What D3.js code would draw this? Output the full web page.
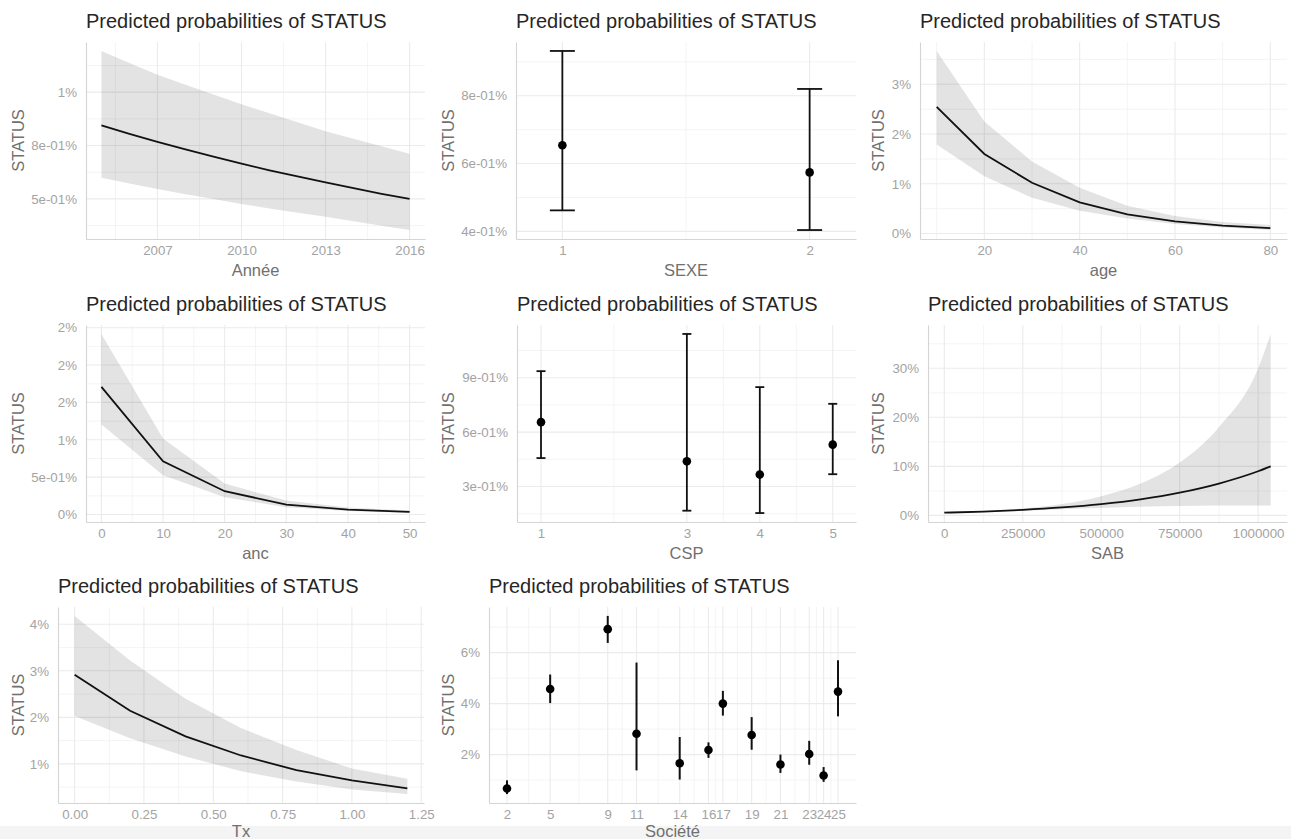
<!DOCTYPE html>
<html>
<head>
<meta charset="utf-8">
<script src="https://cdn.jsdelivr.net/npm/d3@7"></script>
<style>
  body { margin: 0; background: #fff; }
  svg { display: block; font-family: "Liberation Sans", Arial, sans-serif; }
</style>
</head>
<body>
<svg id="chart" width="1291" height="839"></svg>
<script>
// Predicted probabilities (in %), one set per term

// Année
const yearX = [2005, 2006, 2007, 2008, 2009, 2010, 2011, 2012, 2013, 2014, 2015, 2016]
const yearPred = [0.844, 0.805, 0.767, 0.732, 0.698, 0.665, 0.634, 0.605, 0.577, 0.550, 0.524, 0.500]
const yearLow = [0.599, 0.572, 0.546, 0.522, 0.499, 0.476, 0.455, 0.435, 0.416, 0.395, 0.374, 0.354]
const yearHigh = [1.193, 1.137, 1.081, 1.035, 0.989, 0.943, 0.901, 0.859, 0.817, 0.782, 0.747, 0.712]
const yearXTicks = [2007, 2010, 2013, 2016]
const yearYTicks = [0.5, 0.75, 1]
const yearYLabels = ["5e-01%", "8e-01%", "1%"]

// SEXE
const sexeX = [1, 2]
const sexePred = [0.654, 0.574]
const sexeLow = [0.462, 0.404]
const sexeHigh = [0.932, 0.820]
const sexeXTicks = [1, 2]
const sexeYTicks = [0.4, 0.6, 0.8]
const sexeYLabels = ["4e-01%", "6e-01%", "8e-01%"]

// age
const ageX = [10, 20, 30, 40, 50, 60, 70, 80]
const agePred = [2.546, 1.60, 1.02, 0.626, 0.386, 0.246, 0.160, 0.110]
const ageLow = [1.79, 1.15, 0.72, 0.46, 0.30, 0.19, 0.12, 0.07]
const ageHigh = [3.67, 2.25, 1.45, 0.92, 0.56, 0.35, 0.23, 0.17]
const ageXTicks = [20, 40, 60, 80]
const ageYTicks = [0, 1, 2, 3]
const ageYLabels = ["0%", "1%", "2%", "3%"]

// anc
const ancX = [0, 10, 20, 30, 40, 50]
const ancPred = [1.707, 0.713, 0.312, 0.134, 0.067, 0.036]
const ancLow = [1.203, 0.525, 0.231, 0.098, 0.047, 0.020]
const ancHigh = [2.416, 1.016, 0.414, 0.187, 0.094, 0.053]
const ancXTicks = [0, 10, 20, 30, 40, 50]
const ancYTicks = [0, 0.5, 1, 1.5, 2, 2.5]
const ancYLabels = ["0%", "5e-01%", "1%", "2%", "2%", "2%"]

// CSP
const cspX = [1, 3, 4, 5]
const cspPred = [0.655, 0.439, 0.366, 0.531]
const cspLow = [0.457, 0.167, 0.154, 0.368]
const cspHigh = [0.936, 1.141, 0.848, 0.756]
const cspXTicks = [1, 3, 4, 5]
const cspYTicks = [0.3, 0.6, 0.9]
const cspYLabels = ["3e-01%", "6e-01%", "9e-01%"]

// SAB
const sabX = [0, 125000, 250000, 375000, 500000, 625000, 750000, 875000, 1000000, 1040000]
const sabPred = [0.55, 0.79, 1.13, 1.62, 2.31, 3.28, 4.64, 6.50, 9.0, 10.0]
const sabLow = [0.48, 0.70, 0.95, 1.25, 1.50, 1.75, 1.90, 2.0, 2.0, 2.0]
const sabHigh = [0.62, 0.90, 1.40, 2.30, 3.90, 6.50, 10.8, 18.0, 30.0, 37.0]
const sabXTicks = [0, 250000, 500000, 750000, 1000000]
const sabYTicks = [0, 10, 20, 30]
const sabYLabels = ["0%", "10%", "20%", "30%"]

// Tx
const txX = [0, 0.2, 0.4, 0.6, 0.8, 1.0, 1.2]
const txPred = [2.915, 2.14, 1.59, 1.18, 0.865, 0.645, 0.474]
const txLow = [2.03, 1.55, 1.16, 0.84, 0.62, 0.45, 0.35]
const txHigh = [4.18, 3.22, 2.40, 1.77, 1.30, 0.90, 0.68]
const txXTicks = [0, 0.25, 0.5, 0.75, 1, 1.25]
const txXLabels = ["0.00", "0.25", "0.50", "0.75", "1.00", "1.25"]
const txYTicks = [1, 2, 3, 4]
const txYLabels = ["1%", "2%", "3%", "4%"]

// Société
const socX = [2, 5, 9, 11, 14, 16, 17, 19, 21, 23, 24, 25]
const socPred = [0.67, 4.57, 6.92, 2.82, 1.66, 2.18, 4.00, 2.77, 1.61, 2.02, 1.18, 4.47]
const socLow = [0.45, 4.02, 6.38, 1.38, 1.02, 1.87, 3.53, 2.19, 1.28, 1.60, 0.93, 3.50]
const socHigh = [0.99, 5.14, 7.44, 5.61, 2.69, 2.48, 4.50, 3.47, 2.00, 2.54, 1.51, 5.70]
const socXTicks = [2, 5, 9, 11, 14, 16, 17, 19, 21, 23, 24, 25]
const socXLabels = ["2", "5", "9", "11", "14", "16", "17", "19", "21", "23", "24", "25"]
const socYTicks = [2, 4, 6]
const socYLabels = ["2%", "4%", "6%"]

const title = "Predicted probabilities of STATUS"
const yTitle = "STATUS"

// ggplot-style 5% expansion of the data range
function expand(lo, hi) {
  const r = hi - lo
  return [lo - 0.05 * r, hi + 0.05 * r]
}

// minor gridlines half-way between major breaks, like ggplot
function minorBreaks(b, domain) {
  const bd = b[1] - b[0]
  const ext = b.slice()
  if (domain[0] < b[0]) ext.unshift(b[0] - bd)
  if (domain[1] > b[b.length - 1]) ext.push(b[b.length - 1] + bd)
  const m = []
  for (let i = 0; i < ext.length - 1; i++) m.push((ext[i] + ext[i + 1]) / 2)
  return m.filter(v => v > domain[0] && v < domain[1])
}

// bottom row's x titles sit right at the lower edge of the window
const rows = [
  { top: 42, bottom: 239, xTitleGap: 37 },
  { top: 325, bottom: 522, xTitleGap: 37 },
  { top: 607, bottom: 803, xTitleGap: 34 }
]

const panels = [
  { col: 0, row: 0, left: 86, right: 425, kind: "ribbon", xs: yearX, pred: yearPred, lo: yearLow, hi: yearHigh,
    xTicks: yearXTicks, yTicks: yearYTicks, yLabels: yearYLabels, xTitle: "Année",
    xDomain: expand(2005, 2016) },
  { col: 1, row: 0, left: 516, right: 856, kind: "errorbar", cap: 12.5, xs: sexeX, pred: sexePred, lo: sexeLow, hi: sexeHigh,
    xTicks: sexeXTicks, yTicks: sexeYTicks, yLabels: sexeYLabels, xTitle: "SEXE",
    xDomain: [0.8125, 2.1875] },
  { col: 2, row: 0, left: 920, right: 1287, kind: "ribbon", xs: ageX, pred: agePred, lo: ageLow, hi: ageHigh,
    xTicks: ageXTicks, yTicks: ageYTicks, yLabels: ageYLabels, xTitle: "age",
    xDomain: expand(10, 80) },
  { col: 0, row: 1, left: 86, right: 425, kind: "ribbon", xs: ancX, pred: ancPred, lo: ancLow, hi: ancHigh,
    xTicks: ancXTicks, yTicks: ancYTicks, yLabels: ancYLabels, xTitle: "anc",
    xDomain: expand(0, 50) },
  { col: 1, row: 1, left: 517, right: 856, kind: "errorbar", cap: 4.5, xs: cspX, pred: cspPred, lo: cspLow, hi: cspHigh,
    xTicks: cspXTicks, yTicks: cspYTicks, yLabels: cspYLabels, xTitle: "CSP",
    xDomain: [0.671, 5.319] },
  { col: 2, row: 1, left: 928, right: 1287, kind: "ribbon", curve: d3.curveMonotoneX, xs: sabX, pred: sabPred, lo: sabLow, hi: sabHigh,
    xTicks: sabXTicks, yTicks: sabYTicks, yLabels: sabYLabels, xTitle: "SAB",
    xDomain: expand(0, 1040000) },
  { col: 0, row: 2, left: 58, right: 424, kind: "ribbon", xs: txX, pred: txPred, lo: txLow, hi: txHigh,
    xTicks: txXTicks, xLabels: txXLabels, yTicks: txYTicks, yLabels: txYLabels, xTitle: "Tx",
    xDomain: expand(0, 1.2) },
  { col: 1, row: 2, left: 489, right: 856, kind: "pointrange", xs: socX, pred: socPred, lo: socLow, hi: socHigh,
    xTicks: socXTicks, xLabels: socXLabels, yTicks: socYTicks, yLabels: socYLabels, xTitle: "Société",
    xDomain: [0.75, 26.25] }
]

const svg = d3.select("#chart")
svg.append("rect").attr("width", 1291).attr("height", 839).attr("fill", "#fff")

// light strip at the very bottom of the screenshot
svg.append("rect").attr("x", 0).attr("y", 826).attr("width", 1291).attr("height", 13).attr("fill", "#f4f4f4")

panels.forEach(p => drawPanel(p))

function drawPanel(p) {
  const box = rows[p.row]
  const colX = p.col * 430
  const yDomain = expand(d3.min(p.lo), d3.max(p.hi))
  const x = d3.scaleLinear().domain(p.xDomain).range([p.left, p.right])
  const y = d3.scaleLinear().domain(yDomain).range([box.bottom, box.top])
  const g = svg.append("g")

  // gridlines
  const grid = g.append("g")
  grid.selectAll(".xminor").data(minorBreaks(p.xTicks, p.xDomain)).join("line")
    .attr("x1", d => x(d)).attr("x2", d => x(d))
    .attr("y1", box.top).attr("y2", box.bottom)
    .attr("stroke", "#f1f1f1").attr("stroke-width", 0.8)
  grid.selectAll(".yminor").data(minorBreaks(p.yTicks, yDomain)).join("line")
    .attr("y1", d => y(d)).attr("y2", d => y(d))
    .attr("x1", p.left).attr("x2", p.right)
    .attr("stroke", "#f1f1f1").attr("stroke-width", 0.8)
  grid.selectAll(".xmajor").data(p.xTicks).join("line")
    .attr("x1", d => x(d)).attr("x2", d => x(d))
    .attr("y1", box.top).attr("y2", box.bottom)
    .attr("stroke", "#ebebeb").attr("stroke-width", 1.1)
  grid.selectAll(".ymajor").data(p.yTicks).join("line")
    .attr("y1", d => y(d)).attr("y2", d => y(d))
    .attr("x1", p.left).attr("x2", p.right)
    .attr("stroke", "#ebebeb").attr("stroke-width", 1.1)

  const rowsData = p.xs.map((v, i) => ({ x: v, pred: p.pred[i], lo: p.lo[i], hi: p.hi[i] }))

  if (p.kind === "ribbon") {
    const curve = p.curve || d3.curveLinear
    g.append("path").datum(rowsData)
      .attr("d", d3.area().x(d => x(d.x)).y0(d => y(d.lo)).y1(d => y(d.hi)).curve(curve))
      .attr("fill", "#000").attr("fill-opacity", 0.11)
    g.append("path").datum(rowsData)
      .attr("d", d3.line().x(d => x(d.x)).y(d => y(d.pred)).curve(curve))
      .attr("fill", "none").attr("stroke", "#111").attr("stroke-width", 1.8)
  } else {
    g.selectAll(".bar").data(rowsData).join("line")
      .attr("x1", d => x(d.x)).attr("x2", d => x(d.x))
      .attr("y1", d => y(d.lo)).attr("y2", d => y(d.hi))
      .attr("stroke", "#111").attr("stroke-width", p.kind === "pointrange" ? 2 : 1.8)
    if (p.cap) {
      ["lo", "hi"].forEach(k => {
        g.selectAll(".cap-" + k).data(rowsData).join("line")
          .attr("x1", d => x(d.x) - p.cap).attr("x2", d => x(d.x) + p.cap)
          .attr("y1", d => y(d[k])).attr("y2", d => y(d[k]))
          .attr("stroke", "#111").attr("stroke-width", 1.8)
      })
    }
    g.selectAll(".pt").data(rowsData).join("circle")
      .attr("cx", d => x(d.x)).attr("cy", d => y(d.pred))
      .attr("r", 4.3).attr("fill", "#000")
  }

  // axes
  const xAxis = d3.axisBottom(x).tickValues(p.xTicks).tickSize(0).tickPadding(7)
    .tickFormat((d, i) => p.xLabels ? p.xLabels[i] : String(d))
  const yAxis = d3.axisLeft(y).tickValues(p.yTicks).tickSize(0).tickPadding(9)
    .tickFormat((d, i) => p.yLabels[i])
  const gx = g.append("g").attr("transform", `translate(0,${box.bottom})`).call(xAxis)
  const gy = g.append("g").attr("transform", `translate(${p.left},0)`).call(yAxis)
  ;[gx, gy].forEach(a => {
    a.select(".domain").attr("stroke", "#d4d4d4").attr("stroke-width", 1.1)
    a.selectAll("text").attr("fill", "#a3a3a3").attr("font-size", 13.3)
      .attr("font-family", "Liberation Sans, Arial, sans-serif")
  })

  // titles
  g.append("text").attr("x", p.left).attr("y", box.top - 14)
    .attr("font-size", 20).attr("fill", "#262626").text(title)
  g.append("text").attr("x", (p.left + p.right) / 2).attr("y", box.bottom + box.xTitleGap)
    .attr("text-anchor", "middle").attr("font-size", 16.5).attr("fill", "#707070").text(p.xTitle)
  g.append("text")
    .attr("transform", `translate(${colX + 24},${(box.top + box.bottom) / 2}) rotate(-90)`)
    .attr("text-anchor", "middle").attr("font-size", 16.5).attr("fill", "#707070").text(yTitle)
}
</script>
</body>
</html>
